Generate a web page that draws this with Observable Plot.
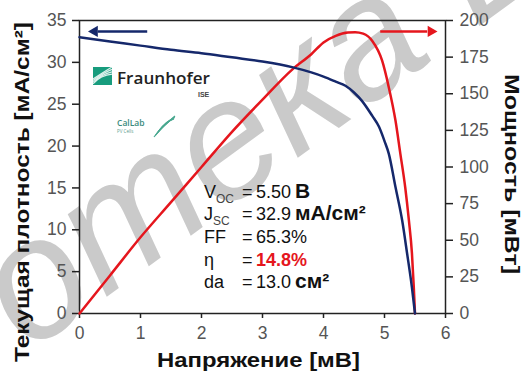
<!DOCTYPE html>
<html><head><meta charset="utf-8">
<script src="https://cdn.jsdelivr.net/npm/d3@7"></script>
<script src="https://cdn.jsdelivr.net/npm/@observablehq/plot@0.6"></script>
<style>body{margin:0;background:#fff} svg{display:block}</style>
</head><body><div id="chart"></div>
<script>
// I–V curve (current density, mA/cm²) vs voltage
const voltageJ = [0, 0.5, 1, 1.5, 2, 2.5, 3, 3.5, 3.8, 4.0, 4.2, 4.36, 4.5, 4.63, 4.8, 4.91, 5.0, 5.07, 5.18, 5.29, 5.37, 5.45, 5.5];
const currentDensity = [33.0, 32.5, 32.0, 31.5, 31.1, 30.6, 30.1, 29.4, 28.8, 28.3, 27.7, 27.2, 26.4, 25.4, 23.6, 22.3, 20.6, 19.1, 15.1, 11.1, 7.2, 3.1, 0];
// Power curve (mW) vs voltage
const voltageP = [0, 0.5, 1, 1.5, 2, 2.5, 3, 3.5, 3.8, 4.0, 4.2, 4.4, 4.52, 4.65, 4.8, 4.96, 5.07, 5.18, 5.26, 5.34, 5.40, 5.45, 5.48, 5.5];
const power = [0, 26, 52, 76, 100, 124, 146, 167, 177, 185, 189.5, 191.8, 192, 191, 186, 172.7, 154.5, 131.7, 109, 86, 63.5, 41, 18, 0];

const xTicks = [0, 1, 2, 3, 4, 5, 6];
const jTicks = [0, 5, 10, 15, 20, 25, 30, 35];
const pTicks = [0, 25, 50, 75, 100, 125, 150, 175, 200];
const J_MAX = 35, P_MAX = 200;

const xTitle = "Напряжение [мВ]";
const yTitle = "Текущая плотность [мА/см²]";
const y2Title = "Мощность [мВт]";

const statNames = [["V", "OC"], ["J", "SC"], ["FF", ""], ["η", ""], ["da", ""]];
const statValues = ["5.50", "32.9", "65.3%", "14.8%", "13.0"];
const statUnits = ["В", "мА/см²", "", "", "см²"];

const k = J_MAX / P_MAX;
const jData = voltageJ.map((v, i) => ({v, j: currentDensity[i]}));
const pData = voltageP.map((v, i) => ({v, p: power[i] * k}));

const navy = "#15286b", red = "#e5161d";
const arrowY = 33.7;
const FONT = "'Liberation Sans', Arial, sans-serif";

const chart = Plot.plot({
  width: 523, height: 372,
  marginLeft: 79, marginRight: 78, marginTop: 20, marginBottom: 59,
  style: {fontFamily: FONT, fontSize: "17px", background: "#fff", overflow: "visible"},
  x: {domain: [0, 6]},
  y: {domain: [0, J_MAX]},
  marks: [
    Plot.axisX(xTicks, {tickSize: 5, tickPadding: 8, fill: "#555", stroke: "#222", strokeWidth: 1.5, label: null, fontSize: 17.5}),
    Plot.axisY(jTicks, {anchor: "left", tickSize: 7, tickPadding: 6, fill: "#555", stroke: "#222", strokeWidth: 1.5, label: null, fontSize: 17.5}),
    Plot.axisY(pTicks.map(p => p * k), {anchor: "right", tickSize: 7, tickPadding: 7, fill: "#555", stroke: "#222", strokeWidth: 1.5, label: null, fontSize: 17.5, tickFormat: d => String(Math.round(d / k))}),
    Plot.frame({stroke: "#222", strokeWidth: 1.5}),
    Plot.line(pData, {x: "v", y: "p", stroke: red, strokeWidth: 2.5, curve: "monotone-x"}),
    Plot.line(jData, {x: "v", y: "j", stroke: navy, strokeWidth: 2.5, curve: "monotone-x"}),
    // direction arrows
    Plot.link([{a: 1.11, b: 0.3}], {x1: "a", x2: "b", y1: () => arrowY, y2: () => arrowY, stroke: navy, strokeWidth: 2.5}),
    Plot.dot([{a: 0.148}], {x: "a", y: () => arrowY, symbol: "triangle", r: 4.2, rotate: -90, fill: navy, stroke: "none", dx: 6}),
    Plot.link([{a: 4.93, b: 5.7}], {x1: "a", x2: "b", y1: () => arrowY, y2: () => arrowY, stroke: red, strokeWidth: 2.5}),
    Plot.dot([{a: 5.86}], {x: "a", y: () => arrowY, symbol: "triangle", r: 4.2, rotate: 90, fill: red, stroke: "none", dx: -6}),
    // axis titles
    Plot.text([yTitle], {frameAnchor: "left", rotate: -90, dx: -57, dy: 25, textAnchor: "middle", lineAnchor: "middle", fontWeight: "bold", fontSize: 20, fill: "#111", className: "ttl-y"}),
    Plot.text([xTitle], {frameAnchor: "bottom", dx: -4, dy: 47, textAnchor: "middle", lineAnchor: "middle", fontWeight: "bold", fontSize: 20, fill: "#111", className: "ttl-x"}),
    Plot.text([y2Title], {frameAnchor: "right", rotate: 90, dx: 66, dy: 7, textAnchor: "middle", lineAnchor: "middle", fontWeight: "bold", fontSize: 20, fill: "#111", className: "ttl-y2"})
  ]
});
document.getElementById("chart").appendChild(chart);

const svg = d3.select(chart);
// stretch axis titles to the reference's lengths
[["ttl-y", 340], ["ttl-x", 203], ["ttl-y2", 200]].forEach(([c, len]) =>
  svg.selectAll(`g.${c} text`).attr("textLength", len).attr("lengthAdjust", "spacingAndGlyphs"));

// watermark (behind everything)
const wm = svg.insert("g", ":first-child");
wm.append("text").attr("transform", "translate(28,354) rotate(-36)")
  .attr("text-anchor", "start").attr("font-family", FONT)
  .attr("font-style", "italic").attr("font-size", 170).attr("fill", "#cacaca")
  .text("отека Б");

// Fraunhofer logo
const logo = svg.append("g").attr("text-anchor", "start");
logo.append("rect").attr("x", 93).attr("y", 67).attr("width", 19).attr("height", 18).attr("fill", "#179c7d");
[3, 7, 11, 15].forEach(o => logo.append("path")
  .attr("d", `M93,${85 - o * 0.4} Q${100 + o * 0.3},${76 - o * 0.3} 112,${67 + (15 - o) * 0.6}`)
  .attr("stroke", "#fff").attr("stroke-width", 1.2).attr("fill", "none").attr("opacity", 0.85));
logo.append("text").attr("x", 117).attr("y", 84).attr("font-family", "'Open Sans', 'Liberation Sans', sans-serif")
  .attr("font-size", 17).attr("font-weight", 600).attr("fill", "#222")
  .attr("textLength", 93).attr("lengthAdjust", "spacingAndGlyphs").text("Fraunhofer");
logo.append("text").attr("x", 198).attr("y", 97).attr("font-family", FONT)
  .attr("font-size", 7).attr("font-weight", "bold").attr("fill", "#444").text("ISE");
// CalLab logo
logo.append("text").attr("x", 117).attr("y", 126).attr("font-family", "'Open Sans', sans-serif")
  .attr("font-size", 8.5).attr("font-weight", 600).attr("fill", "#3a8b7d").text("CalLab");
logo.append("text").attr("x", 117).attr("y", 133).attr("font-family", "'Open Sans', sans-serif")
  .attr("font-size", 4.5).attr("fill", "#5a9a8d").text("PV Cells");
[0, 1, 2, 3, 4].forEach(i => logo.append("path")
  .attr("d", `M${154 + i * 1.2},${137 - i * 1.5} Q${161 + i * 1.5},${128 - i * 2} ${175 - i * 0.3},${116 + i * 0.8}`)
  .attr("stroke", "#4aa890").attr("stroke-width", 1.2).attr("fill", "none"));

// stats block
const baseY = [198, 220, 243, 266, 288];
const stat = svg.append("g").attr("text-anchor", "start").attr("font-family", FONT).attr("font-size", 18).attr("fill", "#111");
statNames.forEach(([n, sub], i) => {
  const t = stat.append("text").attr("x", 204).attr("y", baseY[i]);
  t.append("tspan").text(n);
  if (sub) t.append("tspan").attr("font-size", 12).attr("dy", 5).attr("fill", "#444").text(sub);
  stat.append("text").attr("x", 242).attr("y", baseY[i]).text("=");
  const v = stat.append("text").attr("x", 256).attr("y", baseY[i]);
  if (i === 3) v.attr("fill", red).attr("font-weight", "bold");
  v.append("tspan").text(statValues[i]);
  if (statUnits[i]) v.append("tspan").attr("dx", 4).attr("font-weight", "bold").attr("font-size", 21).text(statUnits[i]);
});
</script></body></html>
